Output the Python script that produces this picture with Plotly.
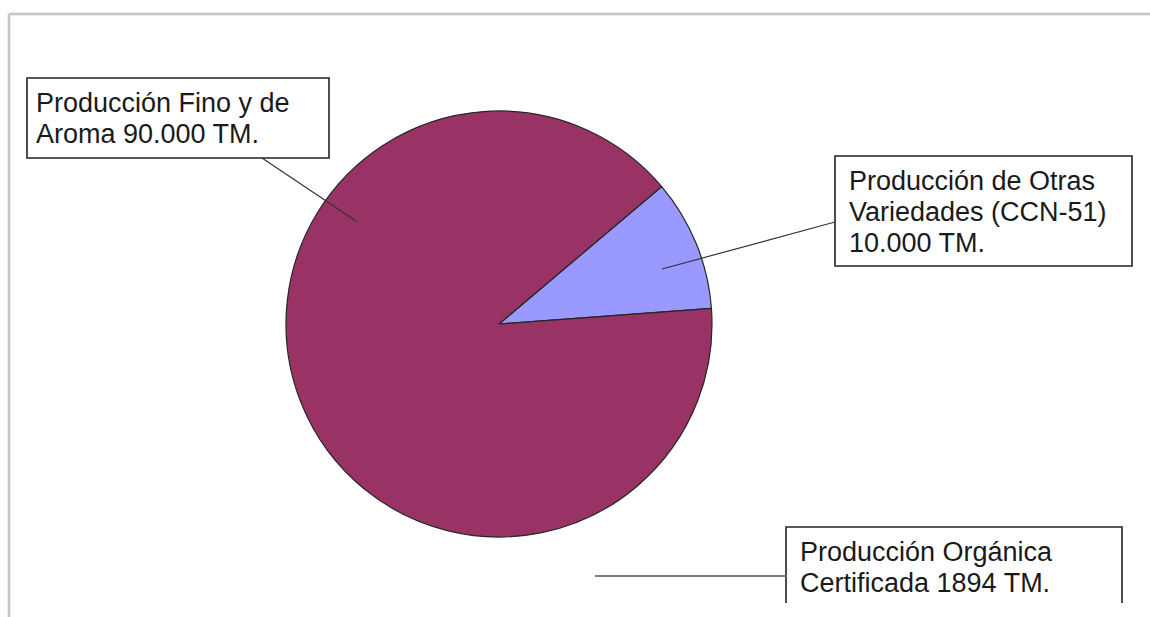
import plotly.graph_objects as go

# ---- data ----
categories = ["Producción de Otras Variedades (CCN-51)", "Producción Fino y de Aroma"]
values = [10000, 90000]
organic_label = "Producción Orgánica Certificada"
organic_value = 1894
colors = ["#9999FF", "#993366"]


def fmt(v):
    return f"{v:,}".replace(",", ".")


W, H = 1150, 617


def px(x):
    return x / W


def py(y):
    return 1 - y / H


# pie geometry (pixels)
cx, cy, r = 499, 324, 213

fig = go.Figure(
    go.Pie(
        labels=categories,
        values=values,
        marker=dict(colors=colors, line=dict(color="#262626", width=1.2)),
        sort=False,
        direction="clockwise",
        rotation=49.8,
        textinfo="none",
        showlegend=False,
        domain=dict(x=[px(cx - r), px(cx + r)], y=[py(cy + r), py(cy - r)]),
    )
)

shapes = []
# screenshot frame (left and top edges with a faint shadow)
for col, w in [("#ececec", 4), ("#b9b9b9", 1.5)]:
    shapes.append(dict(type="line", xref="paper", yref="paper", x0=px(9), x1=px(9),
                       y0=py(14), y1=py(617), line=dict(color=col, width=w)))
    shapes.append(dict(type="line", xref="paper", yref="paper", x0=px(9), x1=px(1150),
                       y0=py(14), y1=py(14), line=dict(color=col, width=w)))

box_line = dict(color="#222222", width=1.6)
# box 1
shapes.append(dict(type="rect", xref="paper", yref="paper", x0=px(27), x1=px(329),
                   y0=py(158), y1=py(78), line=box_line, fillcolor="white"))
# box 2
shapes.append(dict(type="rect", xref="paper", yref="paper", x0=px(835), x1=px(1132),
                   y0=py(266), y1=py(156), line=box_line, fillcolor="white"))
# box 3 (cut at bottom)
shapes.append(dict(type="path", xref="paper", yref="paper",
                   path=f"M {px(786)},{py(603)} L {px(786)},{py(527)} L {px(1122)},{py(527)} L {px(1122)},{py(603)}",
                   line=box_line))
# leader lines
shapes.append(dict(type="line", xref="paper", yref="paper", x0=px(262), y0=py(158),
                   x1=px(356), y1=py(221), line=dict(color="#333333", width=1.2)))
shapes.append(dict(type="line", xref="paper", yref="paper", x0=px(662), y0=py(269),
                   x1=px(835), y1=py(222), line=dict(color="#333333", width=1.2)))
shapes.append(dict(type="line", xref="paper", yref="paper", x0=px(595), y0=py(576),
                   x1=px(786), y1=py(576), line=dict(color="#7a7a7a", width=2)))

font = dict(family="Arial, Liberation Sans, sans-serif", size=27, color="#1a1a1a")

label_lines = [
    (34, [102.5, 133.5], ["Producción Fino y de", f"Aroma {fmt(values[1])} TM."]),
    (847, [181, 212, 243], ["Producción de Otras", "Variedades (CCN-51)", f"{fmt(values[0])} TM."]),
    (798, [552, 583], ["Producción Orgánica", f"Certificada {organic_value} TM."]),
]

annotations = []
for x, ys, lines in label_lines:
    for y, t in zip(ys, lines):
        annotations.append(dict(text=t, x=px(x), y=py(y), xref="paper", yref="paper",
                                xanchor="left", yanchor="middle", showarrow=False,
                                font=font))

fig.update_layout(
    width=W, height=H,
    margin=dict(l=0, r=0, t=0, b=0),
    paper_bgcolor="white", plot_bgcolor="white",
    shapes=shapes, annotations=annotations,
)

fig.write_html("out.html")
